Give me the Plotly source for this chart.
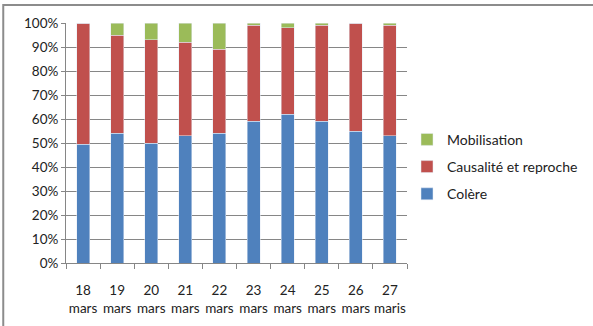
import plotly.graph_objects as go

dates = ["18<br>mars", "19<br>mars", "20<br>mars", "21<br>mars", "22<br>mars",
         "23<br>mars", "24<br>mars", "25<br>mars", "26<br>mars", "27<br>maris"]
colere = [49.5, 54, 50, 53, 54, 59, 62, 59, 55, 53]
causalite = [50.5, 41, 43, 39, 35, 40, 36, 40, 45, 46]
mobilisation = [0, 5, 7, 8, 11, 1, 2, 1, 0, 1]

FONT = "Lato"
fig = go.Figure()
fig.add_trace(go.Bar(x=dates, y=colere, name="Colère", marker_color="#4F81BD",
                     legendgroup="a", legendrank=3))
fig.add_trace(go.Bar(x=dates, y=causalite, name="Causalité et reproche",
                     marker_color="#C0504D", legendgroup="b", legendrank=2))
fig.add_trace(go.Bar(x=dates, y=mobilisation, name="Mobilisation",
                     marker_color="#9BBB59", legendgroup="c", legendrank=1))

fig.update_layout(
    width=593, height=326, barmode="stack", bargap=0.62,
    margin=dict(l=66, r=186, t=23, b=63, autoexpand=False),
    plot_bgcolor="white", paper_bgcolor="white",
    font=dict(family=FONT, size=13, color="#222222"),
    legend=dict(x=1.0, y=0.58, xanchor="left", yanchor="top",
                traceorder="grouped", tracegroupgap=6, itemwidth=30,
                font=dict(size=14, color="#222222"), bgcolor="rgba(0,0,0,0)"),
    shapes=[dict(type="rect", xref="paper", yref="paper",
                 x0=-0.184, x1=1.704, y0=-0.35, y1=1.075,
                 line=dict(color="#8c8c8c", width=2))],
)
fig.update_xaxes(showline=True, linecolor="#868686", linewidth=1,
                 ticks="outside", tickson="boundaries", ticklen=5,
                 tickcolor="#868686", ticklabelstandoff=15, tickangle=0,
                 automargin=False, tickfont=dict(size=13.5))
fig.update_yaxes(range=[0, 100], dtick=10, ticksuffix="%",
                 showline=True, linecolor="#868686", linewidth=1,
                 showgrid=True, gridcolor="#868686", gridwidth=1,
                 ticks="outside", ticklen=4, tickcolor="#868686",
                 automargin=False, tickfont=dict(size=13.5), zeroline=False)
fig.write_html("out.html")
